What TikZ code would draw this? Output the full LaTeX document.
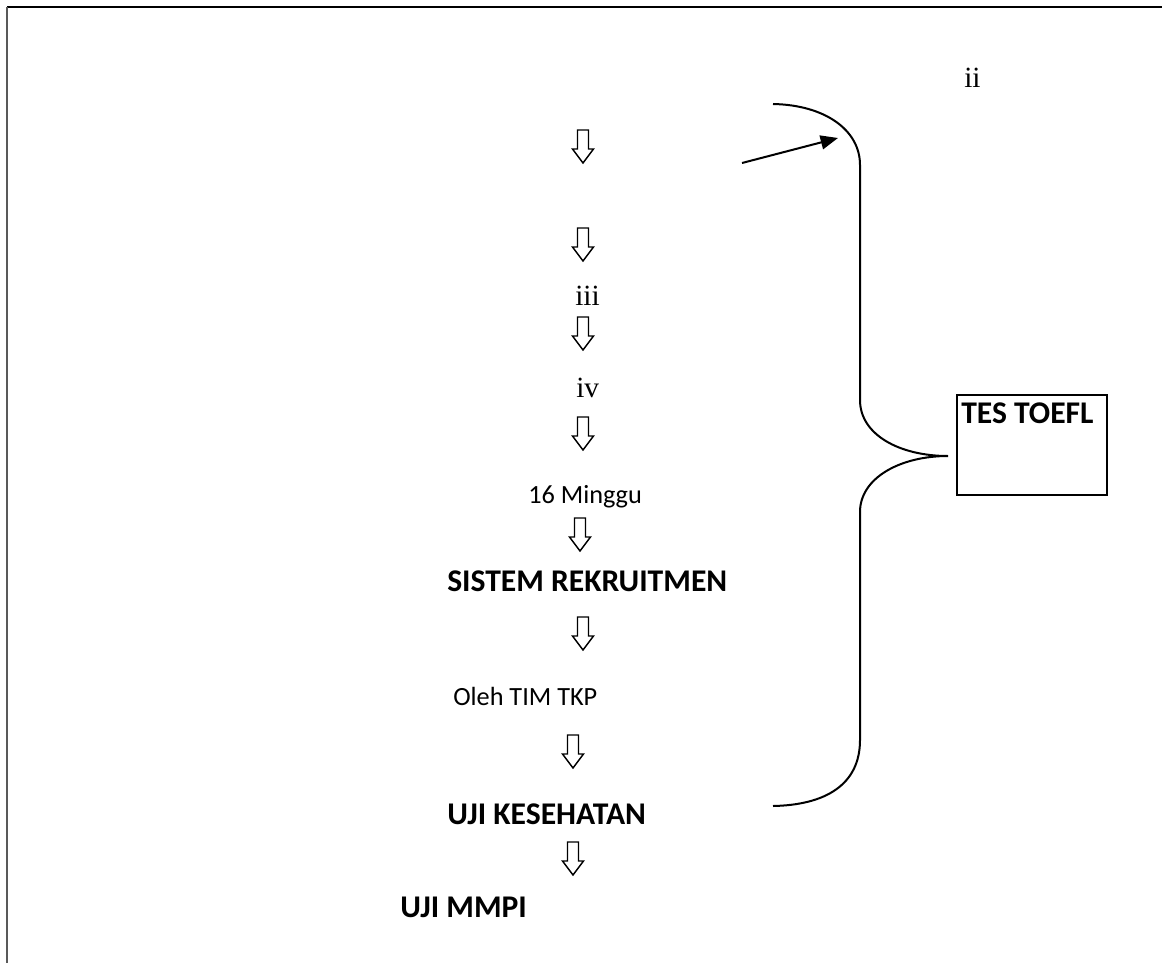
\documentclass[tikz,border=0pt]{standalone}
\usepackage{fontspec}
\setmainfont{Carlito}
\newfontfamily\numfont{Liberation Serif}
\usetikzlibrary{arrows.meta}

\begin{document}
\begin{tikzpicture}[x=0.75pt, y=-0.75pt,
  txt/.style={inner sep=0pt, anchor=base west, font=\fontsize{19.7}{22}\selectfont},
  stage/.style={inner sep=0pt, anchor=base west, font=\bfseries\fontsize{23.7}{26}\selectfont},
  roman/.style={inner sep=0pt, anchor=base west, font=\numfont\fontsize{22}{24}\selectfont},
  hollow/.pic={\draw[line width=1.1pt, fill=white, line join=miter]
     (-5.5,0) -- (5.5,0) -- (5.5,19) -- (10.5,19) -- (0,33) -- (-10.5,19) -- (-5.5,19) -- cycle;},
  >={Triangle[length=13pt, width=10.5pt]}]
  \useasboundingbox (0,0) rectangle (1162,963);
  % page frame
  \draw[line width=1.5pt] (7,7) -- (1162,7);
  \draw[line width=1.5pt, black!65] (7,7) -- (7,963);

  % labels down the middle
  \node[roman] (ii)  at (964,88) {ii};
  \node[roman] (iii) at (575,305) {iii};
  \node[roman] (iv)  at (576,397) {iv};
  \node[txt]   (weeks)   at (528,503) {16 Minggu};
  \node[stage] (recruit) at (447,591) {SISTEM REKRUITMEN};
  \node[txt]   (team)    at (453,705) {Oleh TIM TKP};
  \node[stage] (health)  at (447,824) {UJI KESEHATAN};
  \node[stage] (mmpi)    at (400,917) {UJI MMPI};

  % hollow down arrows
  \pic (d1) at (583,130) {hollow};
  \pic (d2) at (583,228) {hollow};
  \pic (d3) at (583,317) {hollow};
  \pic (d4) at (583,417) {hollow};
  \pic (d5) at (580,518) {hollow};
  \pic (d6) at (583,617) {hollow};
  \pic (d7) at (573,735) {hollow};
  \pic (d8) at (573,842) {hollow};

  % box on the right
  \node[draw, line width=1.1pt, minimum width=112.5pt, minimum height=75pt, inner sep=0pt]
        (toefl) at (1032,445) {};
  \node[stage] (toefltxt) at (961,423) {TES TOEFL};

  % brace and pointer
  \coordinate (tip) at (948,456);
  \draw[line width=1.5pt] (773,104) .. controls (825,105) and (860,130) .. (860,165)
        -- (860,400) .. controls (860,435) and (900,456) .. (tip)
        .. controls (900,456) and (860,478) .. (860,512)
        -- (860,740) .. controls (860,785) and (825,805) .. (773,806);
  \coordinate (from) at (742,163);
  \coordinate (to)   at (838,138);
  \draw[->, line width=1.5pt] (from) -- (to);
\end{tikzpicture}
\end{document}
